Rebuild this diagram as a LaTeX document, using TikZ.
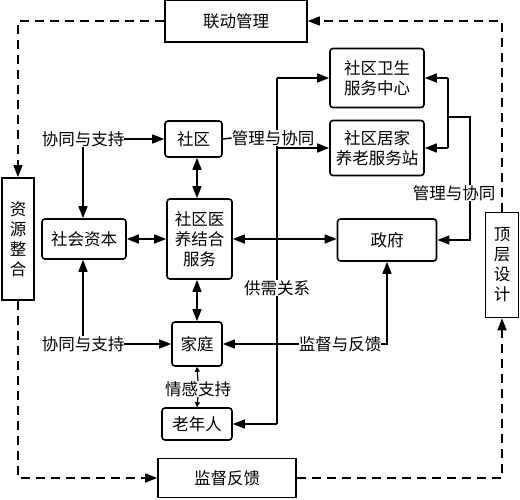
\documentclass[tikz,border=0pt]{standalone}
\usepackage{fontspec}
\setmainfont{Noto Sans CJK SC}
\usetikzlibrary{arrows.meta}
\begin{document}
\begin{tikzpicture}[x=1pt,y=-1pt,
  txt/.style={font=\fontsize{16.5}{20}\selectfont},
  box/.style={txt,draw,line width=1.6pt,rounded corners=3pt,align=center,inner sep=0pt},
  sqbox/.style={txt,draw,line width=1.6pt,align=center,inner sep=0pt},
  lab/.style={txt,fill=white,inner sep=0pt},
  ar/.style={line width=1.5pt,-{Triangle[length=12pt,width=9pt]}},
  dar/.style={line width=1.5pt,{Triangle[length=12pt,width=9pt]}-{Triangle[length=12pt,width=9pt]}},
  sar/.style={line width=1.2pt,-{Triangle[length=5pt,width=5pt]}},
  ln/.style={line width=1.5pt},
  dsh/.style={line width=1.5pt,dash pattern=on 9pt off 6pt,-{Triangle[length=12pt,width=9pt]}}
]
\useasboundingbox (0,0) rectangle (520,500);
% bus lines drawn first (labels cover them)
\coordinate (bt) at (277,78);
\coordinate (bb) at (277,424);
\coordinate (rb) at (448,117);
\coordinate (rc) at (470,117);
\draw[ln] (bt) -- (bb);

% boxes
\node[sqbox,minimum width=142pt,minimum height=42pt] (ld) at (236,21) {联动管理};
\node[sqbox,minimum width=138pt,minimum height=39pt] (jdfk) at (227,478) {监督反馈};
\node[sqbox,minimum width=32pt,minimum height=122pt] (zy) at (18,239) {资\\源\\整\\合};
\node[sqbox,minimum width=33pt,minimum height=105pt] (dc) at (502,265) {顶\\层\\设\\计};
\node[box,minimum width=57pt,minimum height=36pt] (sq) at (193.5,139) {社区};
\node[box,minimum width=65pt,minimum height=80pt] (yy) at (199.5,239) {社区医\\养结合\\服务};
\node[box,minimum width=84pt,minimum height=40pt] (shzb) at (84,239) {社会资本};
\node[box,minimum width=50pt,minimum height=44pt] (jt) at (197,344) {家庭};
\node[box,minimum width=70pt,minimum height=32pt] (lnr) at (197,424) {老年人};
\node[box,minimum width=94pt,minimum height=59pt] (ws) at (377,78) {社区卫生\\服务中心};
\node[box,minimum width=94pt,minimum height=55pt] (jj) at (377,148) {社区居家\\养老服务站};
\node[box,minimum width=99pt,minimum height=42pt] (zf) at (387,240) {政府};

% right bracket lines (behind label)
\draw[ln] (ws.east -| rb) -- (jj.east -| rb);
\draw[ar] (ws.east -| rb) -- (ws.east);
\draw[ar] (jj.east -| rb) -- (jj.east);
\draw[ar] (rb) -- (rc) |- (zf.east);

% labels
\node[lab] (l1) at (83,139) {协同与支持};
\node[lab] (l2) at (83,344) {协同与支持};
\node[lab] (l3) at (273,138) {管理与协同};
\node[lab] (l4) at (454,193) {管理与协同};
\node[lab] (l5) at (277,288) {供需关系};
\node[lab] (l6) at (340,344) {监督与反馈};
\node[lab] (l7) at (198,389) {情感支持};

% dashed loop
\draw[dsh] (ld.west) -| (zy.north);
\draw[dsh] (dc.north) |- (ld.east);
\draw[dsh] (zy.south) |- (jdfk.west);
\draw[dsh] (jdfk.east) -| (dc.south);

% solid connectors
\draw[ar] (l1.east) -- (sq.west);
\draw[ar] (l1.south) -- (l1.south |- shzb.north);
\draw[ar] (l2.north) -- (l2.north |- shzb.south);
\draw[ar] (l2.east) -- (jt.west);
\draw[dar] (shzb.east) -- (yy.west);
\draw[dar] (sq.south -| jt.north) -- (yy.north -| jt.north);
\draw[dar] (yy.south -| jt.north) -- (jt.north);
\draw[dar] (yy.east) -- (yy.east -| zf.west);
\draw[ln] (sq.east) -- (l3.west);
\draw[ar] (bt) -- (ws.west);
\draw[ar] (bt |- jj.west) -- (jj.west);
\draw[ar] (bb) -- (bb -| lnr.east);
\draw[ar] (l6.west) -- (jt.east);
\draw[ar] (l6.east) -| (zf.south);
\draw[sar] (l7.north) -- (jt.south);
\draw[sar] (l7.south) -- (lnr.north);
\end{tikzpicture}
\end{document}
